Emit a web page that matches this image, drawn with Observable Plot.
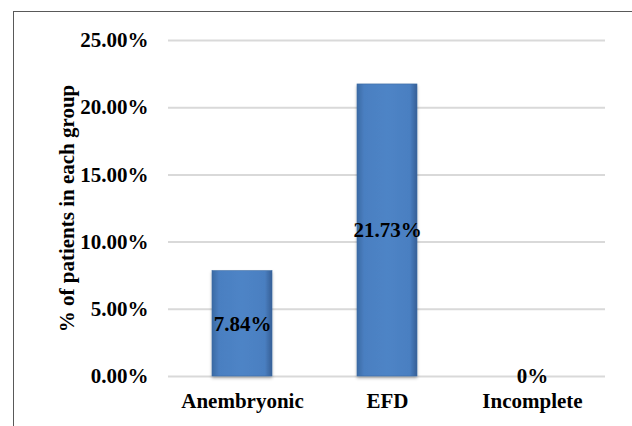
<!DOCTYPE html>
<html>
<head>
<meta charset="utf-8">
<script src="https://cdn.jsdelivr.net/npm/d3@7"></script>
<script src="https://cdn.jsdelivr.net/npm/@observablehq/plot@0.6"></script>
<style>
  html, body { margin: 0; padding: 0; background: #fff; overflow: hidden; }
  #wrap { position: relative; width: 632px; height: 426px; }
  #frame { position: absolute; left: 13px; top: 11px; width: 700px; height: 500px; border: 1.5px solid #595959; box-sizing: border-box; }
  #chart { position: absolute; left: 0; top: 0; }
  #chart svg { background: transparent; }
</style>
</head>
<body>
<div id="wrap"><div id="frame"></div><div id="chart"></div></div>
<script>
const categories = ["Anembryonic", "EFD", "Incomplete"];
const values = [7.84, 21.73, 0];
const valueLabels = ["7.84%", "21.73%", "0%"];
const yTicks = [0, 5, 10, 15, 20, 25];
const yTitle = "% of patients in each group";

const data = categories.map((c, i) => ({category: c, value: values[i], label: valueLabels[i]}));
const font = "'Liberation Serif', 'Times New Roman', Times, serif";

const svg = Plot.plot({
  width: 632,
  height: 426,
  marginLeft: 168,
  marginRight: 27,
  marginTop: 40,
  marginBottom: 50,
  style: {
    fontFamily: font,
    fontSize: "21px",
    fontWeight: "bold",
    color: "black",
    background: "transparent"
  },
  x: {domain: categories, paddingInner: 0.588, paddingOuter: 0.294, label: null, tickSize: 0, tickPadding: 17},
  y: {domain: [0, 25], ticks: yTicks, tickFormat: d => d.toFixed(2) + "%", label: null, tickSize: 0, tickPadding: 20},
  marks: [
    Plot.ruleY(yTicks, {stroke: "#d9d9d9", strokeWidth: 2}),
    Plot.barY(data, {x: "category", y: "value", fill: "url(#barGrad)", stroke: "#3b6aa3", strokeWidth: 0.6}),
    Plot.text(data, {x: "category", y: d => d.value / 2, text: "label", fill: "black", fontSize: 21, fontWeight: "bold", fontFamily: font}),
    Plot.text([yTitle], {frameAnchor: "left", textAnchor: "middle", dx: -101, rotate: -90, text: d => d, fill: "black", fontSize: 21, fontWeight: "bold", fontFamily: font})
  ]
});

const s = d3.select(svg);
const defs = s.insert("defs", ":first-child");
const g = defs.append("linearGradient").attr("id", "barGrad").attr("x1", "0").attr("x2", "1").attr("y1", "0").attr("y2", "0");
[[0, "#3a6aa4"], [0.12, "#4a7fc1"], [0.5, "#4e84c6"], [0.88, "#4a7fc1"], [1, "#365f96"]].forEach(([o, c]) =>
  g.append("stop").attr("offset", o).attr("stop-color", c));
const f = defs.append("filter").attr("id", "shadow").attr("x", "-20%").attr("y", "-5%").attr("width", "140%").attr("height", "115%");
f.append("feDropShadow").attr("dx", 0).attr("dy", 2).attr("stdDeviation", 1.5).attr("flood-color", "#000").attr("flood-opacity", 0.3);
s.selectAll("g[aria-label='bar']").attr("filter", "url(#shadow)");

document.getElementById("chart").appendChild(svg);
</script>
</body>
</html>
